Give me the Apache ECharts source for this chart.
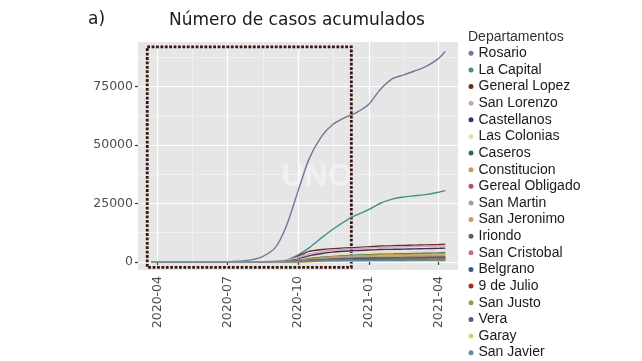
<!DOCTYPE html>
<html>
<head>
<meta charset="utf-8">
<script src="https://cdn.jsdelivr.net/npm/echarts@6/dist/echarts.min.js"></script>
<style>
html,body{margin:0;padding:0;background:#fff;}
#c{width:642px;height:361px;}
</style>
</head>
<body>
<div id="c"></div>
<script>
var dates = ["2020-03-25","2020-04-15","2020-05-15","2020-06-15","2020-07-01","2020-07-15","2020-08-01","2020-08-15","2020-09-01","2020-09-15","2020-10-01","2020-10-15","2020-11-01","2020-11-15","2020-12-01","2020-12-15","2021-01-01","2021-01-15","2021-02-01","2021-02-15","2021-03-01","2021-03-15","2021-04-01","2021-04-10"];

var departamentos = ["Rosario","La Capital","General Lopez","San Lorenzo","Castellanos","Las Colonias","Caseros","Constitucion","Gereal Obligado","San Martin","San Jeronimo","Iriondo","San Cristobal","Belgrano","9 de Julio","San Justo","Vera","Garay","San Javier"];

var rosario        = [0,0,0,5,50,300,900,2200,6000,14800,30500,44000,54000,58800,61800,63800,67600,73600,78500,80000,81700,83500,87000,90000];
var laCapital      = [0,0,0,0,10,30,80,130,200,700,3000,6000,10500,14000,17500,20000,22500,25000,27000,27800,28300,28800,29800,30500];
var generalLopez   = [0,0,0,0,5,20,50,100,150,400,2500,4500,5300,5700,6000,6200,6500,6800,7000,7100,7200,7300,7450,7600];
var sanLorenzo     = [0,0,0,2,10,30,80,150,300,800,2000,3400,4400,5000,5400,5700,6000,6200,6400,6500,6600,6700,6800,6900];
var castellanos    = [0,0,0,0,2,5,20,50,100,300,1200,2600,3600,4200,4600,4900,5100,5300,5400,5500,5600,5700,5800,5900];
var lasColonias    = [0,0,0,0,1,3,10,30,80,250,900,1800,2600,3100,3400,3700,3900,4100,4200,4300,4400,4500,4600,4700];
var caseros        = [0,0,0,0,1,3,8,20,60,200,700,1400,2000,2400,2700,2900,3100,3300,3400,3500,3600,3700,3800,3900];
var constitucion   = [0,0,0,0,1,2,8,20,50,150,600,1200,1800,2200,2500,2700,2900,3000,3100,3200,3300,3350,3400,3450];
var gerealObligado = [0,0,0,0,0,1,3,10,30,80,300,700,1100,1400,1600,1800,1900,2000,2100,2150,2200,2250,2300,2350];
var sanMartin      = [0,0,0,0,1,2,6,15,40,120,500,1000,1500,1800,2000,2150,2300,2400,2500,2550,2600,2650,2700,2750];
var sanJeronimo    = [0,0,0,0,1,2,5,12,35,100,400,900,1400,1700,1900,2050,2200,2300,2400,2450,2500,2550,2600,2650];
var iriondo        = [0,0,0,0,0,1,4,10,30,90,350,750,1100,1300,1450,1550,1650,1750,1800,1850,1900,1950,2000,2050];
var sanCristobal   = [0,0,0,0,0,1,3,8,20,60,250,550,850,1050,1200,1300,1400,1450,1500,1550,1600,1650,1700,1750];
var belgrano       = [0,0,0,0,0,1,3,8,25,70,280,600,900,1100,1250,1350,1450,1500,1550,1600,1650,1700,1750,1800];
var nueveDeJulio   = [0,0,0,0,0,0,1,3,8,20,80,180,300,380,450,500,550,580,600,620,640,660,680,700];
var sanJusto       = [0,0,0,0,0,1,2,5,15,40,180,400,650,800,900,970,1030,1080,1120,1150,1180,1210,1240,1270];
var vera           = [0,0,0,0,0,0,1,4,10,30,130,300,500,650,750,820,880,930,970,1000,1030,1060,1090,1120];
var garay          = [0,0,0,0,0,0,1,2,5,12,50,110,180,230,270,300,330,350,370,380,390,400,410,420];
var sanJavier      = [0,0,0,0,0,0,1,3,8,25,100,240,400,500,570,620,660,700,730,750,770,790,810,830];

var allValues = [rosario,laCapital,generalLopez,sanLorenzo,castellanos,lasColonias,caseros,constitucion,gerealObligado,sanMartin,sanJeronimo,iriondo,sanCristobal,belgrano,nueveDeJulio,sanJusto,vera,garay,sanJavier];

var colors = ["#77749b","#419189","#6b2e22","#c9a5c0","#4b2a5e","#e6dfb6","#2f6e3e","#c89a5a","#b04e88","#a0a0a8","#c0a070","#5e5e66","#c07080","#3c5a78","#a82828","#8aa060","#705080","#d6d45c","#6888a0"];

var xTicks = ["2020-04-01","2020-07-01","2020-10-01","2021-01-01","2021-04-01"];
var xMinor = ["2020-05-16","2020-08-16","2020-11-15","2021-02-15"];
var yTicks = [0,25000,50000,75000];
var yMinor = [12500,37500,62500,87500];

var boxRange = {x0:"2020-03-19", x1:"2020-12-09", y0:-2300, y1:92000};

function ts(s){ var p=s.split("-"); return new Date(+p[0], +p[1]-1, +p[2]).getTime(); }
function pad(n){ return n<10 ? "0"+n : ""+n; }

var xMin = ts("2020-03-07"), xMax = ts("2021-04-26") + 12*3600e3;
var yMin = -3450, yMax = 94100;

var series = departamentos.map(function(name, i){
  return {
    name: name, type: 'line', showSymbol: false, symbol: 'circle',
    xAxisIndex: 0, yAxisIndex: 0,
    smooth: 0.25,
    color: colors[i],
    lineStyle: {width: 1.4, color: colors[i]},
    data: dates.map(function(d, k){ return [ts(d), allValues[i][k]]; }),
    silent: true
  };
});
series[0].markArea = {
  silent: true,
  itemStyle: {color: 'rgba(0,0,0,0)', borderColor: '#3a150e', borderWidth: 2.8, borderType: [2.8, 1.6]},
  data: [[{coord: [ts(boxRange.x0), boxRange.y1]}, {coord: [ts(boxRange.x1), boxRange.y0]}]]
};

var chart = echarts.init(document.getElementById('c'), null, {renderer: 'canvas'});
chart.setOption({
  animation: false,
  backgroundColor: '#ffffff',
  grid: {left: 138, right: 184, top: 42, bottom: 91, show: true, backgroundColor: '#e6e6e6', borderWidth: 0},
  graphic: [
    {type: 'text', left: 88, top: 11, style: {text: 'a)', font: '17px "DejaVu Sans"', fill: '#1a1a1a'}},
    {type: 'text', x: 297, y: 21, style: {text: 'Número de casos acumulados', font: '17px "DejaVu Sans"', fill: '#1a1a1a', textAlign: 'center', textVerticalAlign: 'middle'}},
    {type: 'text', x: 468, y: 37, style: {text: 'Departamentos', font: '14px "Liberation Sans"', fill: '#333333', textVerticalAlign: 'middle'}},
    {type: 'text', x: 317, y: 177, z: 1, style: {text: 'UNO', font: 'bold 32px "Liberation Sans"', fill: 'rgba(255,255,255,0.4)', textAlign: 'center', textVerticalAlign: 'middle'}}
  ],
  legend: {
    orient: 'vertical', left: 468.5, top: 45.3, height: 340, padding: 0,
    icon: 'circle', itemWidth: 5, itemHeight: 5, itemGap: 0.63,
    textStyle: {fontFamily: 'Liberation Sans', fontSize: 14, color: '#1a1a1a', lineHeight: 16},
    data: departamentos, selectedMode: false
  },
  xAxis: [{
    type: 'value', min: xMin, max: xMax, gridIndex: 0,
    axisLine: {show: false},
    axisTick: {show: true, length: 3, lineStyle: {color: '#333', width: 1.2}, customValues: xTicks.map(ts)},
    axisLabel: {
      customValues: xTicks.map(ts), rotate: 90, margin: 6,
      fontFamily: 'DejaVu Sans', fontSize: 12.5, color: '#4d4d4d',
      formatter: function(v){ var d = new Date(v); return d.getFullYear() + '-' + pad(d.getMonth()+1); }
    },
    splitLine: {show: true, lineStyle: {color: '#ffffff', width: 1.2}}
  }, {
    type: 'value', min: xMin, max: xMax, gridIndex: 0, position: 'top',
    axisLine: {show: false},
    axisTick: {show: false, customValues: xMinor.map(ts)},
    axisLabel: {show: false},
    splitLine: {show: true, lineStyle: {color: '#f4f4f4', width: 0.7}}
  }],
  yAxis: [{
    type: 'value', min: yMin, max: yMax, gridIndex: 0,
    axisLine: {show: false},
    axisTick: {show: true, length: 3, lineStyle: {color: '#333', width: 1.2}, customValues: yTicks},
    axisLabel: {customValues: yTicks, margin: 5, fontFamily: 'DejaVu Sans', fontSize: 12.5, color: '#4d4d4d',
      formatter: function(v){ return String(v); }},
    splitLine: {show: true, lineStyle: {color: '#ffffff', width: 1.2}}
  }, {
    type: 'value', min: yMin, max: yMax, gridIndex: 0, position: 'right',
    axisLine: {show: false},
    axisTick: {show: false, customValues: yMinor},
    axisLabel: {show: false},
    splitLine: {show: true, lineStyle: {color: '#f4f4f4', width: 0.7}}
  }],
  series: series
});
</script>
</body>
</html>
